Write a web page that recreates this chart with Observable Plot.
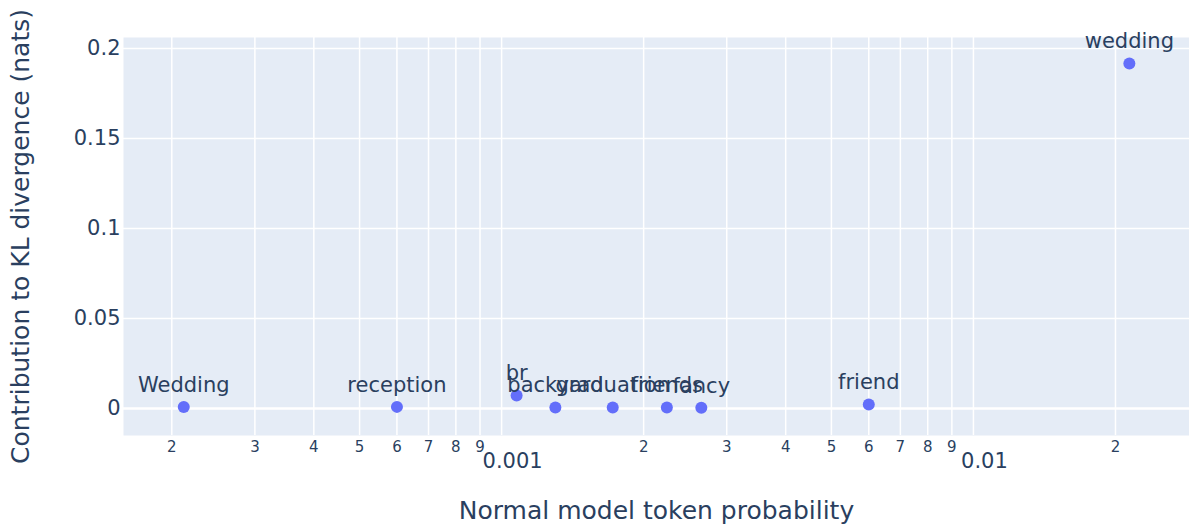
<!DOCTYPE html>
<html>
<head>
<meta charset="utf-8">
<script src="https://cdn.jsdelivr.net/npm/d3@7"></script>
<script src="https://cdn.jsdelivr.net/npm/@observablehq/plot@0.6"></script>
<style>
  html, body { margin: 0; padding: 0; background: #fff; }
  #chart svg { display: block; }
</style>
</head>
<body>
<div id="chart"></div>
<script>
const words = ["Wedding", "reception", "br", "backyard", "graduation", "friends", "fancy", "friend", "wedding"];
const probs = [0.000212, 0.0006, 0.001076, 0.0013, 0.00172, 0.00224, 0.00265, 0.006, 0.0214];
const kls   = [0.0008, 0.0009, 0.0072, 0.0006, 0.0006, 0.0006, 0.0004, 0.0022, 0.1917];

const yTicks = [0, 0.05, 0.1, 0.15, 0.2];
const yTickLabels = ["0", "0.05", "0.1", "0.15", "0.2"];
const xMinorTicks = [0.0002, 0.0003, 0.0004, 0.0005, 0.0006, 0.0007, 0.0008, 0.0009,
                     0.002, 0.003, 0.004, 0.005, 0.006, 0.007, 0.008, 0.009, 0.02];
const xMinorLabels = ["2","3","4","5","6","7","8","9","2","3","4","5","6","7","8","9","2"];
const xMajorTicks = [0.001, 0.01];
const xMajorLabels = ["0.001", "0.01"];

const data = words.map((w, i) => ({word: w, p: probs[i], kl: kls[i]}));
const minorData = xMinorTicks.map((t, i) => ({t, label: xMinorLabels[i]}));
const gridX = xMinorTicks.concat(xMajorTicks);

const ink = "#2a3f5f";
const font = "'DejaVu Sans', Verdana, sans-serif";
const chart = Plot.plot({
  width: 1189,
  height: 529,
  marginLeft: 123,
  marginRight: 0,
  marginTop: 37,
  marginBottom: 94,
  style: {fontFamily: font, color: ink, background: "#fff"},
  x: {type: "log", domain: [0.000158, 0.0287]},
  y: {domain: [-0.015, 0.2061]},
  marks: [
    Plot.frame({fill: "#E5ECF6", stroke: null}),
    Plot.ruleX(gridX, {stroke: "#fff", strokeWidth: 1.5}),
    Plot.ruleY(yTicks.filter(d => d !== 0), {stroke: "#fff", strokeWidth: 1.5}),
    Plot.ruleY([0], {stroke: "#fff", strokeWidth: 2.5}),
    Plot.axisY(yTicks, {
      tickSize: 0, tickPadding: 3, fontSize: 21, fill: ink,
      tickFormat: d => yTickLabels[yTicks.indexOf(d)],
      label: null
    }),
    Plot.axisY([], {
      tickSize: 0, fontSize: 25, fill: ink,
      label: "Contribution to KL divergence (nats)", labelAnchor: "center", labelArrow: "none",
      labelOffset: 112
    }),
    Plot.text(minorData, {
      x: "t", text: "label", frameAnchor: "bottom", lineAnchor: "middle", dy: 12,
      fontSize: 15, fill: ink
    }),
    Plot.axisX(xMajorTicks, {
      tickSize: 0, tickPadding: 18, fontSize: 21, fill: ink, dx: 11,
      tickFormat: d => xMajorLabels[xMajorTicks.indexOf(d)],
      label: null
    }),
    Plot.axisX([], {
      tickSize: 0, fontSize: 25, fill: ink,
      label: "Normal model token probability", labelAnchor: "center", labelArrow: "none",
      labelOffset: 83
    }),
    Plot.dot(data, {x: "p", y: "kl", r: 6, fill: "#636efa", stroke: null}),
    Plot.text(data, {x: "p", y: "kl", text: "word", dy: -22, fontSize: 21, fill: ink})
  ]
});

document.getElementById("chart").appendChild(chart);
</script>
</body>
</html>
